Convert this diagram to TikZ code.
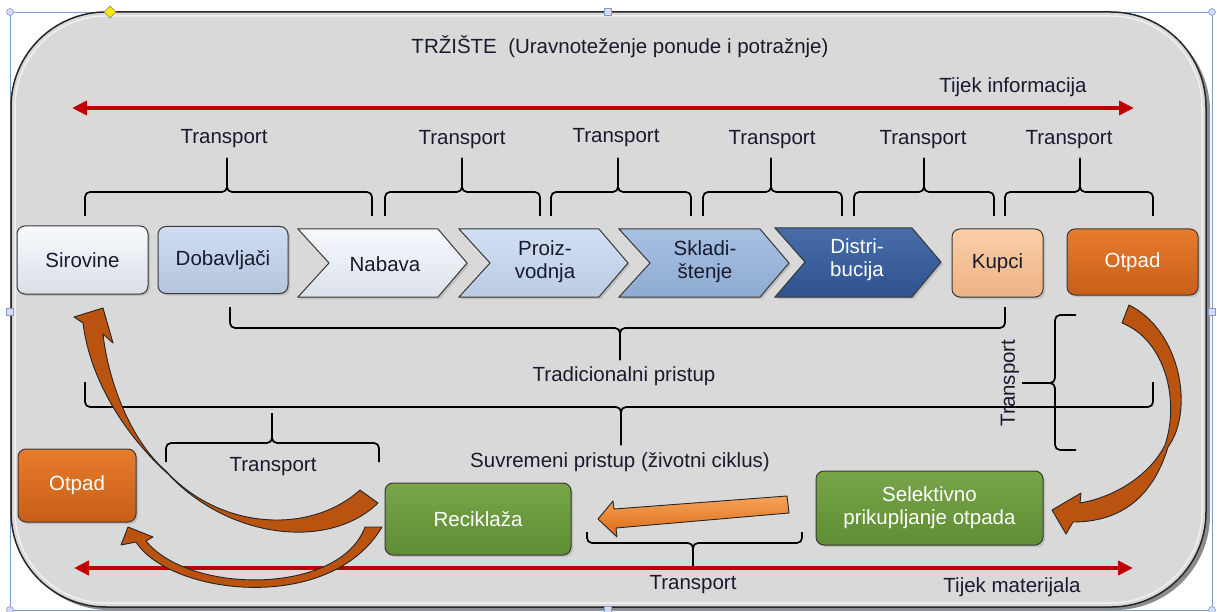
\documentclass[tikz,border=0pt]{standalone}
\usepackage{fontspec}
\setmainfont{Liberation Sans}
\usetikzlibrary{arrows.meta,shadows}
\definecolor{bg}{HTML}{D9D9D9}
\definecolor{cA}{HTML}{EDF2FA}
\definecolor{cB}{HTML}{C3D5EF}
\definecolor{cC}{HTML}{E9F0FA}
\definecolor{cD}{HTML}{C6D8F1}
\definecolor{cE}{HTML}{98B6DE}
\definecolor{cF}{HTML}{335C9E}
\definecolor{kup}{HTML}{FBBE8C}
\definecolor{otp}{HTML}{D9661A}
\definecolor{otpT}{HTML}{E77C2C}
\definecolor{grn}{HTML}{5F8D35}
\definecolor{grnT}{HTML}{78A548}
\definecolor{curv}{HTML}{B9530F}
\definecolor{strA}{HTML}{F6A257}
\definecolor{strB}{HTML}{DC6A14}
\definecolor{infored}{HTML}{C00000}
\definecolor{txt}{HTML}{1A1A2E}
\definecolor{selblue}{HTML}{7F9CC8}
\begin{document}
\begin{tikzpicture}[x=1pt,y=-1pt,
  font=\fontsize{20.5}{23}\selectfont, text=txt,
  box/.style={draw=black!78, line width=1pt, rounded corners=8pt, inner sep=0pt, align=center,
     drop shadow={opacity=0.3, shadow xshift=2pt, shadow yshift=-2pt}},
  chev/.style={draw=black!78, line width=1pt, line join=miter,
     drop shadow={opacity=0.3, shadow xshift=2pt, shadow yshift=-2pt}},
  lbl/.style={inner sep=1pt, align=center},
  brace/.style={draw=black, line width=1.7pt, rounded corners=5pt},
  redline/.style={draw=infored, line width=4pt, {Triangle[length=15pt,width=14pt]}-{Triangle[length=15pt,width=14pt]}},
  curvarrow/.style={fill=curv, draw=black!85, line width=0.9pt, line join=round},
  handle/.style={draw=selblue, fill=white!85!blue, line width=0.6pt}
]
\useasboundingbox (0,0) rectangle (1217,612);

% selection frame
\draw[selblue, line width=0.7pt] (10,12) rectangle (1212,610);

% background rounded panel
\fill[black!45, rounded corners=95pt] (14,16) rectangle (1210,610);
\draw[fill=bg, draw=black!85, line width=1.5pt, rounded corners=95pt] (11,12) rectangle (1206,607);
\draw[white!60!bg, line width=1.5pt, rounded corners=91pt] (15,16) rectangle (1202,603);

% handles
\foreach \p in {(10,12),(1212,12),(10,610),(1212,610)} \draw[handle] \p circle (3.5);
\foreach \p in {(608,12),(10,312),(1212,312),(608,610)} \draw[handle] \p ++(-3.5,-3.5) rectangle ++(7,7);
\draw[draw=black!50, fill=yellow!90!orange, line width=0.5pt] (110,6) -- (116,12) -- (110,18) -- (104,12) -- cycle;

% title and info arrow
\node[lbl] (title) at (620,47) {TRŽIŠTE\ \ (Uravnoteženje ponude i potražnje)};
\coordinate (iL) at (72,108);
\coordinate (iR) at (1134,108);
\draw[redline] (iL) -- (iR);
\node[lbl] (tinfo) at (1013,87) {Tijek informacija};

% top braces
\foreach \a/\m/\b in {85/227/372, 385/462/540, 551/618/691, 703/771/842, 854/924/994, 1005/1080/1153}{
  \draw[brace] (\a,216) |- (\m,192) -- (\m,158);
  \draw[brace] (\b,216) |- (\m,192) -- (\m,158);
}
\node[lbl] (t1) at (224,139) {Transport};
\node[lbl] (t2) at (462,140) {Transport};
\node[lbl] (t3) at (616,138) {Transport};
\node[lbl] (t4) at (772,140) {Transport};
\node[lbl] (t5) at (923,140) {Transport};
\node[lbl] (t6) at (1069,140) {Transport};

% first row boxes
\node[box, top color=white!60!cA, bottom color=cA!92!black, minimum width=131pt, minimum height=68pt] (sir) at (82.5,260) {Sirovine};
\node[box, top color=cB!80!white, bottom color=cB!92!black, minimum width=130pt, minimum height=67pt] (dob) at (223,260) {Dobavljači};

% chevrons
\draw[chev, top color=white!60!cC, bottom color=cC!94!black] (298,229) -- (438,229) -- (467,263) -- (438,297) -- (298,297) -- (329,263) -- cycle;
\draw[chev, top color=cD!80!white, bottom color=cD!94!black] (459,229) -- (599,229) -- (628,263) -- (599,297) -- (459,297) -- (490,263) -- cycle;
\draw[chev, top color=cE!85!white, bottom color=cE!94!black] (619,229) -- (760,229) -- (789,263) -- (760,297) -- (619,297) -- (650,263) -- cycle;
\draw[chev, top color=cF!90!white, bottom color=cF!90!black] (775,228) -- (912,228) -- (941,262) -- (912,297) -- (775,297) -- (805,262) -- cycle;
\node[lbl] (nab) at (385,264) {Nabava};
\node[lbl] (pro) at (545,262) {Proiz-\\vodnja};
\node[lbl] (skl) at (705,262) {Skladi-\\štenje};
\node[lbl, text=white] (dis) at (857,260) {Distri-\\bucija};

\node[box, top color=kup!75!white, bottom color=kup!94!black, minimum width=91pt, minimum height=68pt] (kup) at (997.5,263) {Kupci};
\node[box, top color=otpT, bottom color=otp!92!black, text=white, minimum width=131pt, minimum height=66pt] (otp1) at (1132.5,262) {Otpad};

% traditional brace
\draw[brace] (230,307) |- (620,328) -- (620,360);
\draw[brace] (1005,307) |- (620,328) -- (620,360);
\node[lbl] (trad) at (624,376) {Tradicionalni pristup};

% suvremeni brace
\draw[brace] (85,382) |- (621,407) -- (621,445);
\draw[brace] (1153,382) |- (621,407) -- (621,445);
\node[lbl] (suv) at (620,462) {Suvremeni pristup (životni ciklus)};

% vertical transport brace
\draw[brace] (1076,315) -| (1055,383) -- (1022,383);
\draw[brace] (1076,450) -| (1055,383) -- (1022,383);
\node[lbl, rotate=90] (tv) at (1010,383) {Transport};

% bottom-left transport brace
\draw[brace] (166,462) |- (272,443) -- (272,413);
\draw[brace] (379,462) |- (272,443) -- (272,413);
\node[lbl] (tb1) at (273,467) {Transport};

% bottom boxes
\node[box, top color=otpT, bottom color=otp!92!black, text=white, minimum width=118pt, minimum height=73pt] (otp2) at (77,485.5) {Otpad};
\node[box, top color=grnT, bottom color=grn, text=white, minimum width=186pt, minimum height=72pt] (rec) at (478,519) {Reciklaža};
\node[box, top color=grnT, bottom color=grn, text=white, minimum width=227pt, minimum height=74pt] (sel) at (929.5,508) {Selektivno\\prikupljanje otpada};

% bottom transport brace
\draw[brace] (587,532) |- (693,543) -- (693,566);
\draw[brace] (802,532) |- (693,543) -- (693,566);

% material arrow
\coordinate (mL) at (74,568);
\coordinate (mR) at (1133,568);
\draw[redline] (mL) -- (mR);
\node[lbl] (tb2) at (693,585) {Transport};
\node[lbl] (tmat) at (1012,587) {Tijek materijala};

% curved arrow: Reciklaza -> Sirovine
\path[curvarrow] (378,503) .. controls (330,550) and (230,540) .. (168,474)
  .. controls (125,435) and (90,380) .. (83,323) -- (74,317) -- (103,308) -- (113,343) -- (103,334)
  .. controls (108,380) and (130,440) .. (166,471) .. controls (220,530) and (310,535) .. (360,490) -- cycle;

% curved arrow: Reciklaza -> Otpad (left)
\path[curvarrow] (382,527) .. controls (330,615) and (170,595) .. (136,542) -- (121,545) -- (128,527)
  -- (153,537) -- (146,541) .. controls (190,595) and (340,595) .. (365,527) -- cycle;

% curved arrow: Otpad -> Selektivno
\path[curvarrow] (1129,305) .. controls (1180,330) and (1195,410) .. (1168,447)
  .. controls (1152,500) and (1118,522) .. (1073,522) -- (1066,534) -- (1052,510) -- (1081,493) -- (1080,503)
  .. controls (1115,497) and (1150,475) .. (1165,445) .. controls (1180,400) and (1165,340) .. (1122,323) -- cycle;

% straight arrow: Selektivno -> Reciklaza
\path[draw=black!85, line width=0.9pt, top color=strA, bottom color=strB, line join=round]
  (787,496) -- (614,509) -- (613,501) -- (598,519) -- (617,537) -- (616,528) -- (789,513) -- cycle;

\end{tikzpicture}
\end{document}
